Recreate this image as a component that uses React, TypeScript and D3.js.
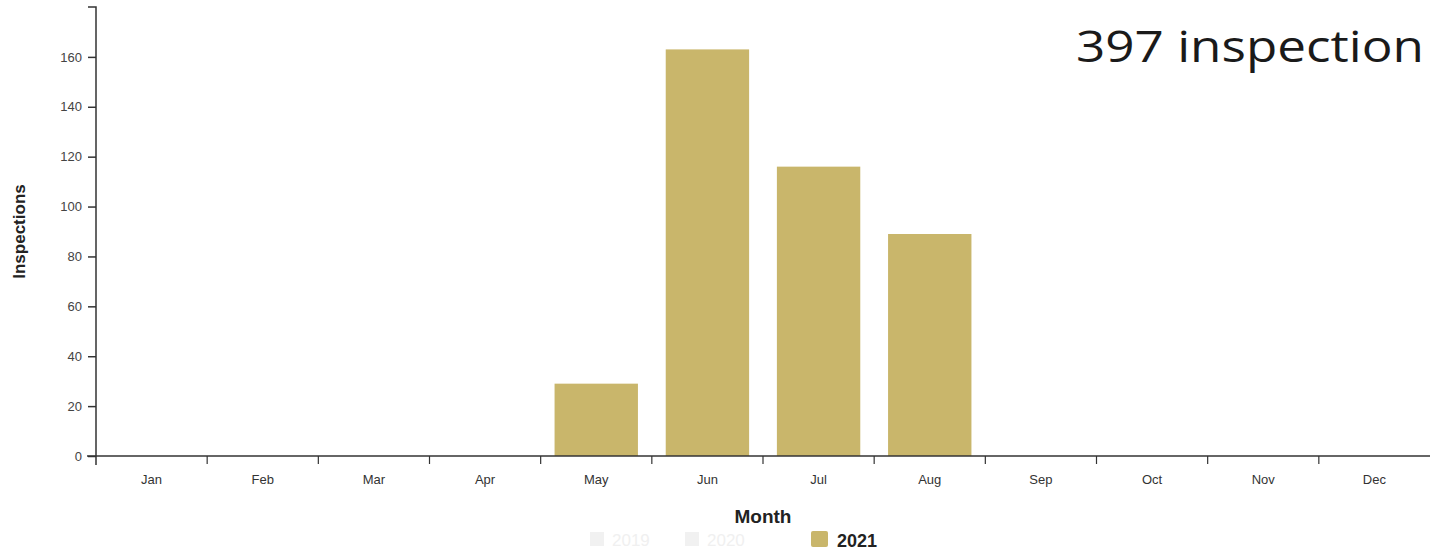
import React, { useEffect, useRef } from "react";
import * as d3 from "d3";

const months = ["Jan", "Feb", "Mar", "Apr", "May", "Jun", "Jul", "Aug", "Sep", "Oct", "Nov", "Dec"];
const inspections2021 = [0, 0, 0, 0, 29, 163, 116, 89, 0, 0, 0, 0];
const yTicks = [0, 20, 40, 60, 80, 100, 120, 140, 160];
const legendFaded = ["2019", "2020"];
const legendMain = "2021";
const annotation = "397 inspection";

const W = 1437;
const H = 557;
const BAR = "#c9b66b";
const FONT = "Arial, 'Liberation Sans', sans-serif";

export default function App() {
  const ref = useRef<SVGSVGElement | null>(null);

  useEffect(() => {
    const svg = d3.select(ref.current);
    svg.selectAll("*").remove();

    const x0 = 96, x1 = 1430, yTop = 7, yBot = 456;
    const x = d3.scaleBand<string>().domain(months).range([x0, x1]).paddingInner(0.25).paddingOuter(0.125);
    const xb = d3.scaleBand<string>().domain(months).range([x0, x1]);
    const y = d3.scaleLinear().domain([0, 180]).range([yBot, yTop]);

    // bars
    svg.append("g")
      .selectAll("rect")
      .data(months.map((m, i) => ({ m, v: inspections2021[i] })).filter(d => d.v > 0))
      .join("rect")
      .attr("x", d => x(d.m)!)
      .attr("width", x.bandwidth())
      .attr("y", d => y(d.v))
      .attr("height", d => y(0) - y(d.v))
      .attr("fill", BAR);

    // y axis
    const ya = svg.append("g").attr("transform", `translate(${x0},0)`)
      .call(d3.axisLeft(y).tickValues(yTicks).tickSize(8).tickSizeOuter(8).tickPadding(6));
    ya.selectAll("path,line").attr("stroke", "#333").attr("stroke-width", 1.5);
    ya.selectAll("text").attr("fill", "#444").attr("font-size", 13).attr("font-family", FONT);
    ya.select(".domain").attr("d", `M${-8},${yTop}H0V${yBot + 9}`);

    // x axis
    const xa = svg.append("g").attr("transform", `translate(0,${yBot})`);
    xa.append("line").attr("x1", x0 - 9).attr("x2", x1).attr("y1", 0).attr("y2", 0)
      .attr("stroke", "#333").attr("stroke-width", 1.5);
    xa.selectAll("line.tk").data(months.slice(1)).join("line").attr("class", "tk")
      .attr("x1", d => xb(d)!).attr("x2", d => xb(d)!).attr("y1", 0).attr("y2", 8)
      .attr("stroke", "#333").attr("stroke-width", 1.2);
    xa.selectAll("text").data(months).join("text")
      .attr("x", d => xb(d)! + xb.bandwidth() / 2).attr("y", 28)
      .attr("text-anchor", "middle").attr("fill", "#333").attr("font-size", 13)
      .attr("font-family", FONT).text(d => d);

    // axis titles
    svg.append("text").attr("x", (x0 + x1) / 2).attr("y", 523).attr("text-anchor", "middle")
      .attr("font-size", 19).attr("font-weight", "bold").attr("fill", "#222")
      .attr("font-family", FONT).text("Month");
    svg.append("text").attr("transform", `translate(25,${(yTop + yBot) / 2}) rotate(-90)`)
      .attr("text-anchor", "middle").attr("font-size", 17).attr("font-weight", "bold").attr("fill", "#222")
      .attr("font-family", FONT).text("Inspections");

    // legend
    const lg = svg.append("g");
    legendFaded.forEach((t, i) => {
      const lx = 590 + i * 95;
      lg.append("rect").attr("x", lx).attr("y", 532).attr("width", 14).attr("height", 14).attr("fill", "#f1f1f1");
      lg.append("text").attr("x", lx + 22).attr("y", 546).attr("font-size", 17).attr("fill", "#f0f0f0")
        .attr("font-family", FONT).text(t);
    });
    lg.append("rect").attr("x", 811).attr("y", 531).attr("width", 17).attr("height", 16).attr("rx", 2).attr("fill", BAR);
    lg.append("text").attr("x", 837).attr("y", 547).attr("font-size", 18).attr("font-weight", "bold").attr("fill", "#222")
      .attr("font-family", FONT).text(legendMain);

    // handwritten annotation
    svg.append("text").attr("x", 1076).attr("y", 62).attr("font-size", 44)
      .attr("fill", "#1a1a1a").attr("font-family", "'Open Sans', 'DejaVu Sans', sans-serif")
      .attr("textLength", 348).attr("lengthAdjust", "spacingAndGlyphs").text(annotation);
  }, []);

  return (
    <svg ref={ref} width={W} height={H}
      style={{ position: "absolute", left: 0, top: 0, background: "#fff", display: "block" }} />
  );
}
